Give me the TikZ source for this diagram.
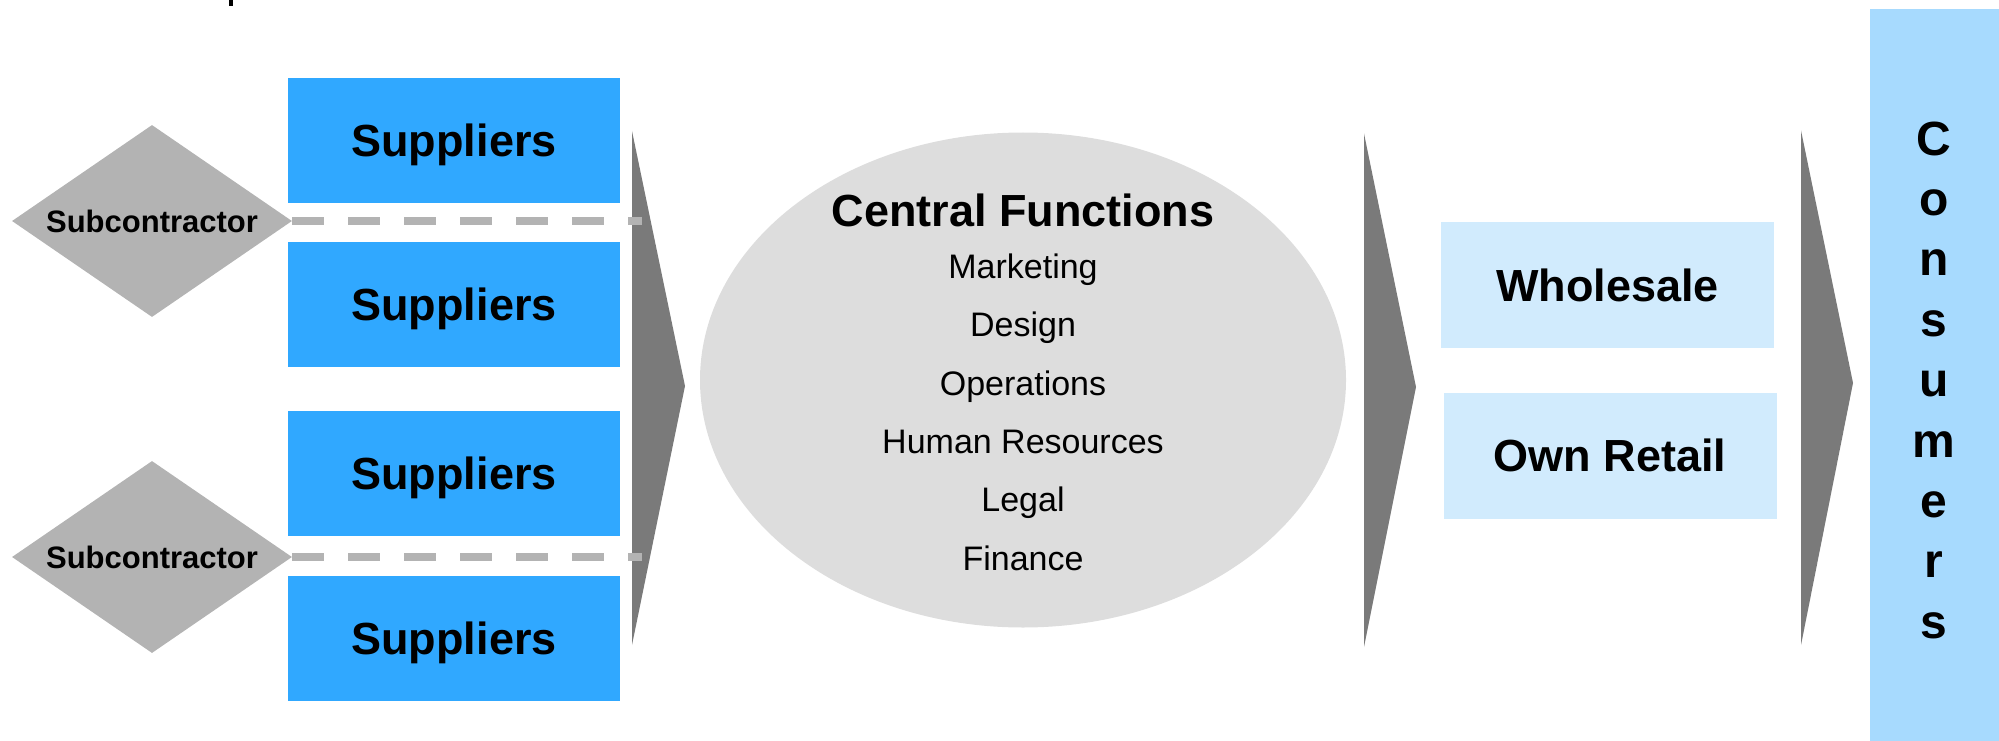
\documentclass[tikz,border=0pt]{standalone}
\usepackage{fontspec}
\setmainfont{Liberation Sans}
\usetikzlibrary{shapes.geometric}

\definecolor{supplierblue}{RGB}{48,168,255}
\definecolor{channelblue}{RGB}{209,235,253}
\definecolor{consumerblue}{RGB}{167,218,254}
\definecolor{diamondgray}{RGB}{179,179,179}
\definecolor{chevrongray}{RGB}{122,122,122}
\definecolor{corelight}{RGB}{221,221,221}

% one centred line of zero width, for stacked labels
\newcommand\ctrline[1]{\hbox to 0pt{\hss#1\hss}}
\newcommand\boldbig{\fontsize{45}{54}\selectfont\bfseries}

\tikzset{
  supplierbox/.style={fill=supplierblue, minimum width=332pt, minimum height=125pt,
    inner sep=0pt, font=\boldbig, text height=32pt, text depth=0pt},
  channelbox/.style={fill=channelblue, minimum width=333pt, minimum height=126pt,
    inner sep=0pt, font=\boldbig, text height=32pt, text depth=0pt},
  subbox/.style={diamond, aspect=1.46, fill=diamondgray, minimum width=280pt, minimum height=192pt,
    inner sep=0pt, font=\fontsize{31}{37}\selectfont\bfseries, text height=22pt, text depth=0pt},
  dashline/.style={draw=diamondgray, line width=8pt, dash pattern=on 31.7pt off 24.3pt},
  chevron/.style={fill=chevrongray},
}

\begin{document}
\begin{tikzpicture}[x=1pt, y=-1pt]
  \useasboundingbox (0,0) rectangle (1999,741);

  % cut-off mark at the top edge
  \fill (229,0) rectangle (232.5,6.5);

  % supplier column
  \node[supplierbox] (s1) at (454,140.5) {Suppliers};
  \node[supplierbox] (s2) at (454,304.5) {Suppliers};
  \node[supplierbox] (s3) at (454,473) {Suppliers};
  \node[supplierbox] (s4) at (454,638) {Suppliers};

  % subcontractors (text kept out of the diamond's size)
  \node[subbox] (sub1) at (152,221) {\makebox[0pt]{Subcontractor}};
  \node[subbox] (sub2) at (152,557) {\makebox[0pt]{Subcontractor}};

  % chevrons
  \fill[chevron] (632,131) -- (685,386) -- (632,645) -- cycle;
  \fill[chevron] (1364,133.5) -- (1416,387) -- (1364,647) -- cycle;
  \fill[chevron] (1801,130.5) -- (1853,383) -- (1801,645) -- cycle;

  % dashed links from subcontractors
  \coordinate (d1) at (642,221);
  \coordinate (d2) at (642,557);
  \draw[dashline] (sub1.east) -- (d1);
  \draw[dashline] (sub2.east) -- (d2);

  % central functions
  \node[ellipse, fill=corelight, minimum width=646pt, minimum height=495pt, inner sep=0pt]
    (core) at (1023,380) {};
  \node[anchor=base, font=\fontsize{45}{52}\selectfont\bfseries] (coretitle) at (1023,226)
    {Central Functions};
  \node[anchor=base, inner sep=0pt, font=\fontsize{34}{40}\selectfont] (corelist) at (1023,278.6)
    {\vtop{\baselineskip=58.3pt
      \ctrline{Marketing}\ctrline{Design}\ctrline{Operations}
      \ctrline{Human Resources}\ctrline{Legal}\ctrline{Finance}}};

  % sales channels
  \node[channelbox] (wholesale) at (1607.5,285) {Wholesale};
  \node[channelbox] (retail) at (1610,455.5) {Own Retail};

  % consumers bar
  \node[fill=consumerblue, minimum width=129pt, minimum height=732pt, inner sep=0pt]
    (cons) at (1934.5,375) {};
  \node[anchor=base, inner sep=0pt, font=\fontsize{48}{56}\selectfont\bfseries] (conslabel)
    at (1934,155)
    {\vtop{\baselineskip=60.4pt
      \ctrline{C}\ctrline{o}\ctrline{n}\ctrline{s}\ctrline{u}
      \ctrline{m}\ctrline{e}\ctrline{r}\ctrline{s}}};
\end{tikzpicture}
\end{document}
